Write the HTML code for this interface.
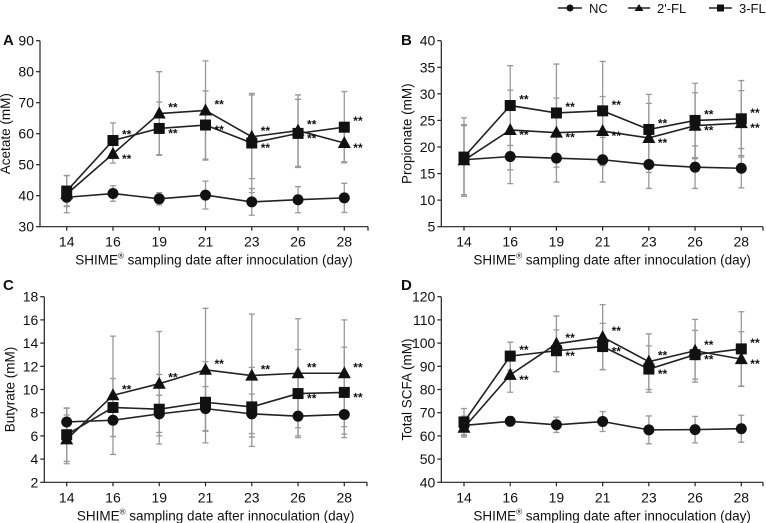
<!DOCTYPE html>
<html><head><meta charset="utf-8"><style>
body{margin:0;background:#fff;}
svg{display:block;font-family:"Liberation Sans",Arial,sans-serif;}
</style></head><body>
<svg id="chart" width="766" height="523" viewBox="0 0 766 523"></svg>
<script>
const days = ["14","16","19","21","23","26","28"];
// Panel A - Acetate
const aNC = [39.5,40.7,39,40.2,38,38.7,39.3];
const aNCerr = [2.8,2.5,2,4.5,4.3,4.2,4.7];
const aFL2 = [40.5,53.5,66.5,67.5,59,61,57];
const aFL2err = [6,3,13.5,16,13.5,11.5,6];
const aFL3 = [41.5,57.8,61.7,62.8,57,60.1,62.1];
const aFL3err = [5,5.7,8.5,11,16,11,11.5];
const aTicks = [30,40,50,60,70,80,90];
const aSig2 = [0,1,1,1,1,1,1];
const aSig3 = [0,1,1,1,1,1,1];
// Panel B - Propionate
const bNC = [17.6,18.2,17.9,17.6,16.7,16.2,16];
const bNCerr = [6.6,5.1,4.5,4.2,4.5,4,3.7];
const bFL2 = [17.5,23.2,22.7,23,21.7,24,24.5];
const bFL2err = [6.5,7.5,6.5,6.5,6.5,6.2,6.1];
const bFL3 = [18.1,27.8,26.4,26.8,23.3,25,25.3];
const bFL3err = [7.4,7.5,9.2,9.3,6.6,7,7.2];
const bTicks = [5,10,15,20,25,30,35,40];
const bSig2 = [0,1,1,1,1,1,1];
const bSig3 = [0,1,1,1,1,1,1];
// Panel C - Butyrate
const cNC = [7.2,7.35,7.9,8.35,7.9,7.7,7.85];
const cNCerr = [1.2,1.4,1.6,1.9,1.7,1.7,1.7];
const cFL2 = [5.7,9.5,10.5,11.7,11.2,11.4,11.4];
const cFL2err = [2.1,5.1,4.5,5.3,5.3,4.7,4.6];
const cFL3 = [6.1,8.45,8.3,8.9,8.5,9.65,9.75];
const cFL3err = [2.3,2.5,3,3.5,3.4,3.8,3.9];
const cTicks = [2,4,6,8,10,12,14,16,18];
const cSig2 = [0,1,1,1,1,1,1];
const cSig3 = [0,0,0,0,0,1,1];
// Panel D - Total SCFA
const dNC = [64.5,66.3,64.8,66.2,62.6,62.7,63.1];
const dNCerr = [4,2,3.3,4.3,6,5.7,5.8];
const dFL2 = [63.5,86.3,99.7,102.6,92,96.7,93.1];
const dFL2err = [4,7.5,12,14,12,13.5,11.8];
const dFL3 = [66,94.4,96.7,98.5,88.8,95,97.5];
const dFL3err = [5.8,6,9,10,10,10.5,16];
const dTicks = [40,50,60,70,80,90,100,110,120];
const dSig2 = [0,1,1,1,1,1,1];
const dSig3 = [0,1,1,1,1,1,1];

const NS="http://www.w3.org/2000/svg";
const svg=document.getElementById('chart');
function mk(tag,attrs,parent){const e=document.createElementNS(NS,tag);for(const k in attrs)e.setAttribute(k,attrs[k]);(parent||svg).appendChild(e);return e;}

function panel(cfg){
  const g=mk('g',{});
  
  
  const min=cfg.ticks[0],max=cfg.ticks[cfg.ticks.length-1];
  const y=v=>cfg.yBot-(v-min)/(max-min)*(cfg.yBot-cfg.yTop);
  const x=i=>cfg.x0+i*(cfg.x1-cfg.x0)/(days.length-1);
  const ax=mk('path',{d:`M${cfg.ax} ${cfg.yTop} V${cfg.yBot} H${cfg.axEnd}`,stroke:'#222','stroke-width':1.2,fill:'none'},g);
  
  
  cfg.ticks.forEach(t=>{
    mk('line',{x1:cfg.ax-4,x2:cfg.ax,y1:y(t),y2:y(t),stroke:'#222','stroke-width':1.2},g);
    const tx=mk('text',{x:cfg.ax-6,y:y(t)+5,'text-anchor':'end','font-size':14,fill:'#111'},g);
    tx.textContent=t;
    
    
  });
  days.forEach((d,i)=>{
    mk('line',{x1:x(i),x2:x(i),y1:cfg.yBot,y2:cfg.yBot+4,stroke:'#222','stroke-width':1.2},g);
    const tx=mk('text',{x:x(i),y:cfg.yBot+20,'text-anchor':'middle','font-size':14,fill:'#111'},g);
    tx.textContent=d;
    
    
  });
  mk('line',{x1:cfg.axEnd,x2:cfg.axEnd,y1:cfg.yBot,y2:cfg.yBot+4,stroke:'#222','stroke-width':1.2},g);
  const xt=mk('text',{x:(cfg.ax+cfg.axEnd)/2+10,y:cfg.yBot+38,'text-anchor':'middle','font-size':13.5,fill:'#111'},g);
  xt.innerHTML='SHIME<tspan font-size="8" dy="-6">®</tspan><tspan dy="6"> sampling date after innoculation (day)</tspan>';
  
  
  const yt=mk('text',{transform:`translate(${cfg.ax-30},${(cfg.yTop+cfg.yBot)/2}) rotate(-90)`,'text-anchor':'middle','font-size':13.5,fill:'#111'},g);
  yt.textContent=cfg.ytitle;
  
  
  const lt=mk('text',{x:cfg.lx,y:cfg.ly,'font-size':15,'font-weight':'bold',fill:'#111'},g);
  lt.textContent=cfg.letter;
  
  
  const series=[[cfg.nc,cfg.ncErr,'circle'],[cfg.f2,cfg.f2Err,'tri'],[cfg.f3,cfg.f3Err,'sq']];
  series.forEach(s=>{
    s[0].forEach((v,i)=>{
      const e=s[1][i];
      const eb=mk('path',{d:`M${x(i)} ${y(v+e)} V${y(v-e)} M${x(i)-3} ${y(v+e)} h6 M${x(i)-3} ${y(v-e)} h6`,stroke:'#999','stroke-width':1.3,fill:'none'},g);
      
      
    });
  });
  series.forEach((s,si)=>{
    const pl=mk('polyline',{points:s[0].map((v,i)=>x(i)+','+y(v)).join(' '),stroke:'#222','stroke-width':1.6,fill:'none'},g);
    
    
    s[0].forEach((v,i)=>{
      const cx=x(i),cy=y(v);let m;
      if(s[2]==='circle')m=mk('circle',{cx:cx,cy:cy,r:5.5,fill:'#111'},g);
      else if(s[2]==='tri')m=mk('path',{d:`M${cx} ${cy-7} L${cx+6.5} ${cy+5} L${cx-6.5} ${cy+5}Z`,fill:'#111'},g);
      else m=mk('rect',{x:cx-5.5,y:cy-5.5,width:11,height:11,fill:'#111'},g);
      
      
    });
  });
  days.forEach((d,i)=>{
    [[cfg.f2,cfg.s2,cfg.f3,cfg.s3],[cfg.f3,cfg.s3,cfg.f2,cfg.s2]].forEach(p=>{
      if(!p[1][i])return;
      const v=p[0][i],o=p[2][i];
      const dy=(v>=o||!p[3][i])?-2:9;
      const st=mk('text',{x:x(i)+9,y:y(v)+dy,'font-size':12,'font-weight':'bold',fill:'#111'},g);
      st.textContent='**';
      
      
    });
  });
}
panel({letter:'A',lx:3,ly:45,ax:40,axEnd:368,x0:66.7,x1:344.3,yTop:40.7,yBot:226.7,ticks:aTicks,ytitle:'Acetate (mM)',nc:aNC,ncErr:aNCerr,f2:aFL2,f2Err:aFL2err,f3:aFL3,f3Err:aFL3err,s2:aSig2,s3:aSig3});
panel({letter:'B',lx:401,ly:45,ax:441.3,axEnd:763,x0:464,x1:741.3,yTop:40.7,yBot:226.7,ticks:bTicks,ytitle:'Propionate (mM)',nc:bNC,ncErr:bNCerr,f2:bFL2,f2Err:bFL2err,f3:bFL3,f3Err:bFL3err,s2:bSig2,s3:bSig3});
panel({letter:'C',lx:3,ly:290,ax:44.3,axEnd:367,x0:66.7,x1:344.3,yTop:296.7,yBot:482.3,ticks:cTicks,ytitle:'Butyrate (mM)',nc:cNC,ncErr:cNCerr,f2:cFL2,f2Err:cFL2err,f3:cFL3,f3Err:cFL3err,s2:cSig2,s3:cSig3});
panel({letter:'D',lx:401,ly:290,ax:441.3,axEnd:763,x0:464,x1:741.3,yTop:296.7,yBot:482.3,ticks:dTicks,ytitle:'Total SCFA (mM)',nc:dNC,ncErr:dNCerr,f2:dFL2,f2Err:dFL2err,f3:dFL3,f3Err:dFL3err,s2:dSig2,s3:dSig3});
const lg=mk('g',{});


[['NC',558,582,'c'],["2'-FL",628,650,'t'],['3-FL',709,732,'s']].forEach(L=>{
  const e=mk('g',{},lg);
  
  
  mk('line',{x1:L[1],x2:L[2],y1:8,y2:8,stroke:'#222','stroke-width':1.5},e);
  const c=(L[1]+L[2])/2;
  if(L[3]==='c')mk('circle',{cx:c,cy:8,r:3.5,fill:'#111'},e);
  else if(L[3]==='t')mk('path',{d:`M${c} 4 L${c+4.5} 11 L${c-4.5} 11Z`,fill:'#111'},e);
  else mk('rect',{x:c-3.5,y:4.5,width:7,height:7,fill:'#111'},e);
  const t=mk('text',{x:L[2]+7,y:13,'font-size':13,fill:'#111'},e);
  t.textContent=L[0];
});
</script>
</body></html>
